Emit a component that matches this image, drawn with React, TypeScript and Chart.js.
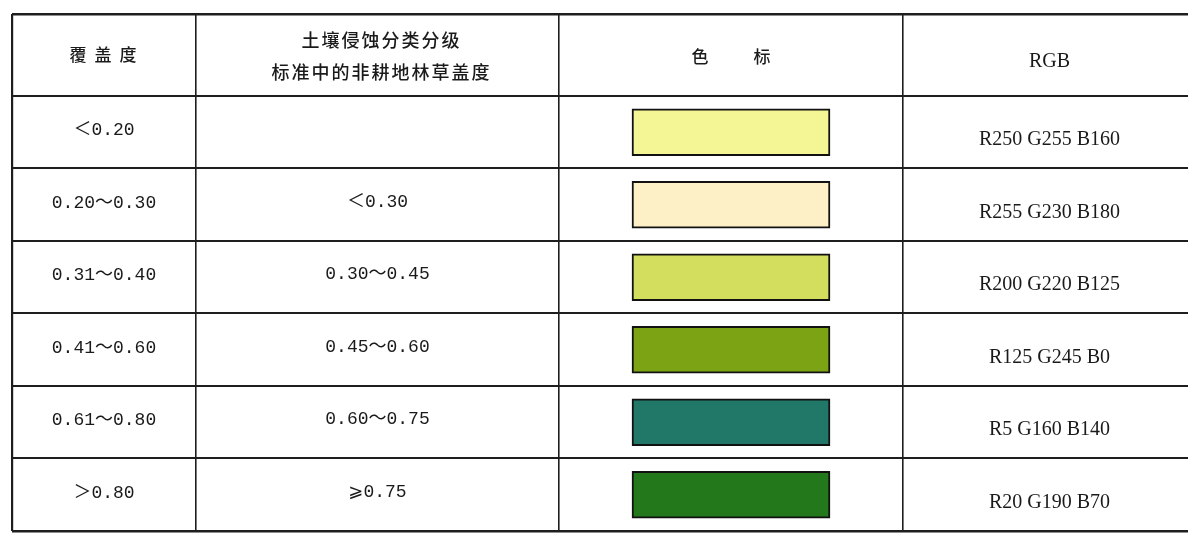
import React, { useEffect, useRef } from "react";
import { Chart, registerables } from "chart.js";

Chart.register(...registerables);

// ---- data ----
const headerCoverage = "覆盖度";
const headerErosion = ["土壤侵蚀分类分级", "标准中的非耕地林草盖度"];
const headerSwatch = "色标";
const headerRgb = "RGB";

const coverageLabels = ["＜0.20", "0.20～0.30", "0.31～0.40", "0.41～0.60", "0.61～0.80", "＞0.80"];
const erosionLabels = ["", "＜0.30", "0.30～0.45", "0.45～0.60", "0.60～0.75", "⩾0.75"];
const rgbLabels = ["R250 G255 B160", "R255 G230 B180", "R200 G220 B125", "R125 G245 B0", "R5 G160 B140", "R20 G190 B70"];
const swatchColors = ["#f4f594", "#fdefc6", "#d3de5e", "#7ca314", "#217868", "#24781c"];

// ---- layout (pixels of the table) ----
const COL_EDGES = [12, 196, 559, 903];
const TABLE_RIGHT = 1188;
const SWATCH_LEFT = 632;
const SWATCH_RIGHT = 830;
const HEADER_ROWS = 1.131; // header height in row units
const INK = "#1e1e1e";
const TEXT = "#1a1a1a";

export default function App() {
  const ref = useRef<HTMLCanvasElement | null>(null);

  useEffect(() => {
    const canvas = ref.current;
    if (!canvas) return;
    const n = coverageLabels.length;
    const yTicks = [-0.5 - HEADER_ROWS];
    for (let i = 0; i <= n; i++) yTicks.push(i - 0.5);

    const textPlugin = {
      id: "tableText",
      afterDatasetsDraw(chart: any) {
        const { ctx, scales } = chart;
        const xs = scales.x;
        const ys = scales.y;
        const cx = [
          xs.getPixelForValue((COL_EDGES[0] + COL_EDGES[1]) / 2),
          xs.getPixelForValue((COL_EDGES[1] + COL_EDGES[2]) / 2),
          xs.getPixelForValue((COL_EDGES[2] + COL_EDGES[3]) / 2),
          xs.getPixelForValue((COL_EDGES[3] + TABLE_RIGHT) / 2) + 4,
        ];
        ctx.save();
        ctx.fillStyle = TEXT;
        ctx.textAlign = "center";
        ctx.textBaseline = "middle";

        const spaced = (text: string, x: number, y: number, gap: number) => {
          const chars = Array.from(text);
          const widths = chars.map((c) => ctx.measureText(c).width);
          const total = widths.reduce((a, b) => a + b, 0) + gap * (chars.length - 1);
          let px = x - total / 2;
          ctx.textAlign = "left";
          chars.forEach((c, k) => {
            ctx.fillText(c, px, y);
            px += widths[k] + gap;
          });
          ctx.textAlign = "center";
        };

        // header
        const hy = ys.getPixelForValue(-0.5 - HEADER_ROWS / 2);
        ctx.font = '500 17px "Noto Sans CJK SC"';
        spaced(headerCoverage, cx[0] - 1, hy, 8);
        spaced(headerSwatch, cx[2], hy + 2, 45);
        ctx.font = '500 18px "Noto Sans CJK SC"';
        spaced(headerErosion[0], cx[1] + 3, hy - 15, 2);
        spaced(headerErosion[1], cx[1] + 3, hy + 17, 2);
        ctx.font = '20px "Liberation Serif"';
        ctx.fillText(headerRgb, cx[3], hy + 7);

        // rows
        for (let i = 0; i < n; i++) {
          const y = ys.getPixelForValue(i);
          ctx.font = '18px "Liberation Mono", "DejaVu Sans", "Noto Sans CJK SC"';
          ctx.fillText(coverageLabels[i], cx[0], y - 2);
          if (erosionLabels[i]) ctx.fillText(erosionLabels[i], cx[1], y - 3);
          ctx.font = '20px "Liberation Serif"';
          ctx.fillText(rgbLabels[i], cx[3], y + 8);
        }
        ctx.restore();
      },
    };

    const chart = new Chart(canvas, {
      type: "bar",
      data: {
        datasets: [
          {
            data: coverageLabels.map((_, i) => ({ y: i, x: [SWATCH_LEFT, SWATCH_RIGHT] })) as any,
            backgroundColor: swatchColors,
            borderColor: "#111111",
            borderWidth: 2,
            borderSkipped: false,
            barThickness: 47,
          },
        ],
      },
      options: {
        indexAxis: "y",
        responsive: false,
        animation: false,
        layout: { padding: { top: 14, bottom: 9, left: 12, right: 0 } },
        plugins: { legend: { display: false }, tooltip: { enabled: false }, title: { display: false } },
        scales: {
          x: {
            type: "linear",
            min: COL_EDGES[0],
            max: TABLE_RIGHT,
            offset: false,
            afterBuildTicks: (s: any) => {
              s.ticks = COL_EDGES.map((v) => ({ value: v }));
            },
            afterFit: (s: any) => {
              s.height = 0;
            },
            ticks: { display: false },
            border: { display: false },
            grid: {
              color: INK,
              lineWidth: (c: any) => (c.index === 0 ? 2.2 : 1.6),
              drawTicks: false,
              offset: false,
            },
          },
          y: {
            type: "linear",
            reverse: true,
            offset: false,
            min: -0.5 - HEADER_ROWS,
            max: n - 0.5,
            afterBuildTicks: (s: any) => {
              s.ticks = yTicks.map((v) => ({ value: v }));
            },
            afterFit: (s: any) => {
              s.width = 0;
            },
            ticks: { display: false },
            border: { display: false },
            grid: {
              color: INK,
              lineWidth: (c: any) => (c.index === 0 || c.index === yTicks.length - 1 ? 2.6 : 2),
              drawTicks: false,
              offset: false,
            },
          },
        },
      },
      plugins: [textPlugin],
    } as any);
    return () => chart.destroy();
  }, []);

  return (
    <div style={{ position: "absolute", left: 0, top: 0, width: 1188, height: 540, background: "#ffffff" }}>
      <canvas ref={ref} width={1188} height={540} />
    </div>
  );
}
